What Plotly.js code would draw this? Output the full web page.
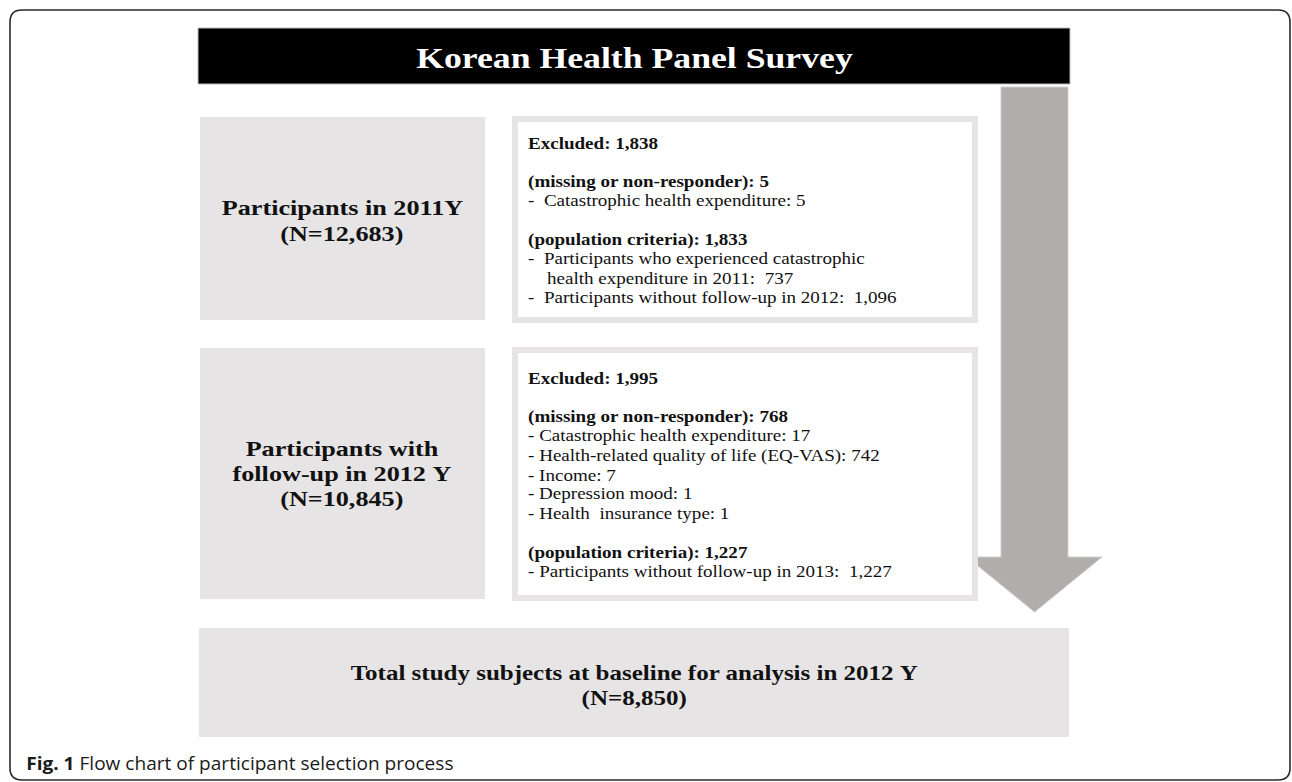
<!DOCTYPE html>
<html>
<head>
<meta charset="utf-8">
<script src="https://cdn.plot.ly/plotly-3.0.1.min.js"></script>
<style>html,body{margin:0;padding:0;background:#fff;}#chart{width:1292px;height:782px;}</style>
</head>
<body>
<div id="chart"></div>
<script>
// ---- content (data) ----
const headerTitle = "Korean Health Panel Survey";
const stageLabels1 = ["Participants in 2011Y", "(N=12,683)"];
const stageLabels2 = ["Participants with", "follow-up in 2012\u00a0Y", "(N=10,845)"];
const finalLabels = ["Total study subjects at baseline for analysis in 2012\u00a0Y", "(N=8,850)"];
const excl1Lines = [
  "Excluded: 1,838", "",
  "(missing or non-responder): 5",
  "-\u00a0 Catastrophic health expenditure: 5", "",
  "(population criteria): 1,833",
  "-\u00a0 Participants who experienced catastrophic",
  "\u00a0\u00a0\u00a0 health expenditure in 2011:\u00a0 737",
  "-\u00a0 Participants without follow-up in 2012:\u00a0 1,096"
];
const excl1Bold = [true, false, true, false, false, true, false, false, false];
const excl2Lines = [
  "Excluded: 1,995", "",
  "(missing or non-responder): 768",
  "- Catastrophic health expenditure: 17",
  "- Health-related quality of life (EQ-VAS): 742",
  "- Income: 7",
  "- Depression mood: 1",
  "- Health\u00a0 insurance type: 1", "",
  "(population criteria): 1,227",
  "- Participants without follow-up in 2013:\u00a0 1,227"
];
const excl2Bold = [true, false, true, false, false, false, false, false, false, true, false];
const captionBold = "Fig. 1";
const captionText = "Flow chart of participant selection process";

// ---- layout / style ----
const W = 1292, H = 782;
const SERIF = "Liberation Serif, Times New Roman, serif";
const GRAY = "#e6e4e5";
const ARROW = "#b1adad";
const STRETCH = 1.19;           // the source figure's text is horizontally widened
const shapes = [];
const ann = [];
const annStretch = [];

function rect(x0, y0, x1, y1, fill, lineColor, lw) {
  shapes.push({type: "rect", xref: "x", yref: "y", x0, y0, x1, y1,
    fillcolor: fill, line: {color: lineColor || fill, width: lw || 0}, layer: "below"});
}
function text(x, y, t, opts, stretch) {
  ann.push(Object.assign({x, y, xref: "x", yref: "y", text: t, showarrow: false,
    xanchor: "center", yanchor: "middle",
    font: {family: SERIF, size: 16, color: "#111"}}, opts || {}));
  annStretch.push(stretch || STRETCH);
}

// outer rounded frame
const r = 12, fx0 = 10, fy0 = 10, fx1 = 1290, fy1 = 780;
shapes.push({type: "path", xref: "x", yref: "y",
  path: `M ${fx0 + r} ${fy0} L ${fx1 - r} ${fy0} Q ${fx1} ${fy0} ${fx1} ${fy0 + r} L ${fx1} ${fy1 - r} Q ${fx1} ${fy1} ${fx1 - r} ${fy1} L ${fx0 + r} ${fy1} Q ${fx0} ${fy1} ${fx0} ${fy1 - r} L ${fx0} ${fy0 + r} Q ${fx0} ${fy0} ${fx0 + r} ${fy0} Z`,
  line: {color: "#2a2a2a", width: 1.6}, fillcolor: "rgba(0,0,0,0)"});

// header
rect(198, 28, 1070, 84, "#000000", "#bbbbbb", 1);
text(634, 57, "<b>" + headerTitle + "</b>", {font: {family: SERIF, size: 30, color: "#ffffff"}});

// arrow
shapes.push({type: "path", xref: "x", yref: "y",
  path: "M 1001 87 L 1068 87 L 1068 557 L 1102 557 L 1034.5 612 L 967 557 L 1001 557 Z",
  fillcolor: ARROW, line: {color: "#d0cdcd", width: 1}, layer: "below"});

// left stage boxes
rect(200, 117, 485, 320, GRAY);
rect(200, 348, 485, 599, GRAY);
function centered(lines, cx, cy, size, lh) {
  const n = lines.length;
  lines.forEach((t, i) => text(cx, cy + (i - (n - 1) / 2) * lh, "<b>" + t + "</b>",
    {font: {family: SERIF, size: size, color: "#111"}}));
}
centered(stageLabels1, 342, 220, 22, 26);
centered(stageLabels2, 342, 473, 22, 25);

// exclusion boxes (white inside thick gray border)
const exX0 = 515, exX1 = 975, bw = 6;
rect(exX0, 119, exX1, 320, "#ffffff", GRAY, bw);
rect(exX0, 350, exX1, 598, "#ffffff", GRAY, bw);
function lines(arr, bold, x, y0, lh) {
  arr.forEach((t, i) => {
    if (!t) return;
    text(x, y0 + i * lh, bold[i] ? "<b>" + t + "</b>" : t,
      {xanchor: "left", font: {family: SERIF, size: 16, color: "#111"}});
  });
}
lines(excl1Lines, excl1Bold, 526, 143, 19.4);
lines(excl2Lines, excl2Bold, 526, 378, 19.4);

// final box
rect(199, 628, 1069, 737, GRAY);
centered(finalLabels, 634, 685, 21, 25);

// caption
text(24, 763, "<b>" + captionBold + "</b> " + captionText,
  {xanchor: "left", font: {family: "Open Sans, Noto Sans, sans-serif", size: 18, color: "#1a1a1a"}}, 1.06);

const layout = {
  width: W, height: H,
  margin: {l: 0, r: 0, t: 0, b: 0},
  paper_bgcolor: "#ffffff", plot_bgcolor: "#ffffff",
  xaxis: {range: [0, W], visible: false, fixedrange: true},
  yaxis: {range: [H, 0], visible: false, fixedrange: true},
  shapes: shapes, annotations: ann, showlegend: false
};
Plotly.newPlot("chart", [{x: [], y: [], type: "scatter", mode: "markers"}], layout,
  {displayModeBar: false, staticPlot: true}).then(gd => {
  gd.querySelectorAll("g.annotation").forEach(g => {
    const idx = +g.getAttribute("data-index");
    const t = g.querySelector("text.annotation-text");
    if (!t || isNaN(idx)) return;
    const s = annStretch[idx];
    const b = t.getBBox();
    const cx = ann[idx].xanchor === "left" ? b.x : b.x + b.width / 2;
    t.setAttribute("transform", `translate(${cx},0) scale(${s},1) translate(${-cx},0)`);
  });
});
</script>
</body>
</html>
